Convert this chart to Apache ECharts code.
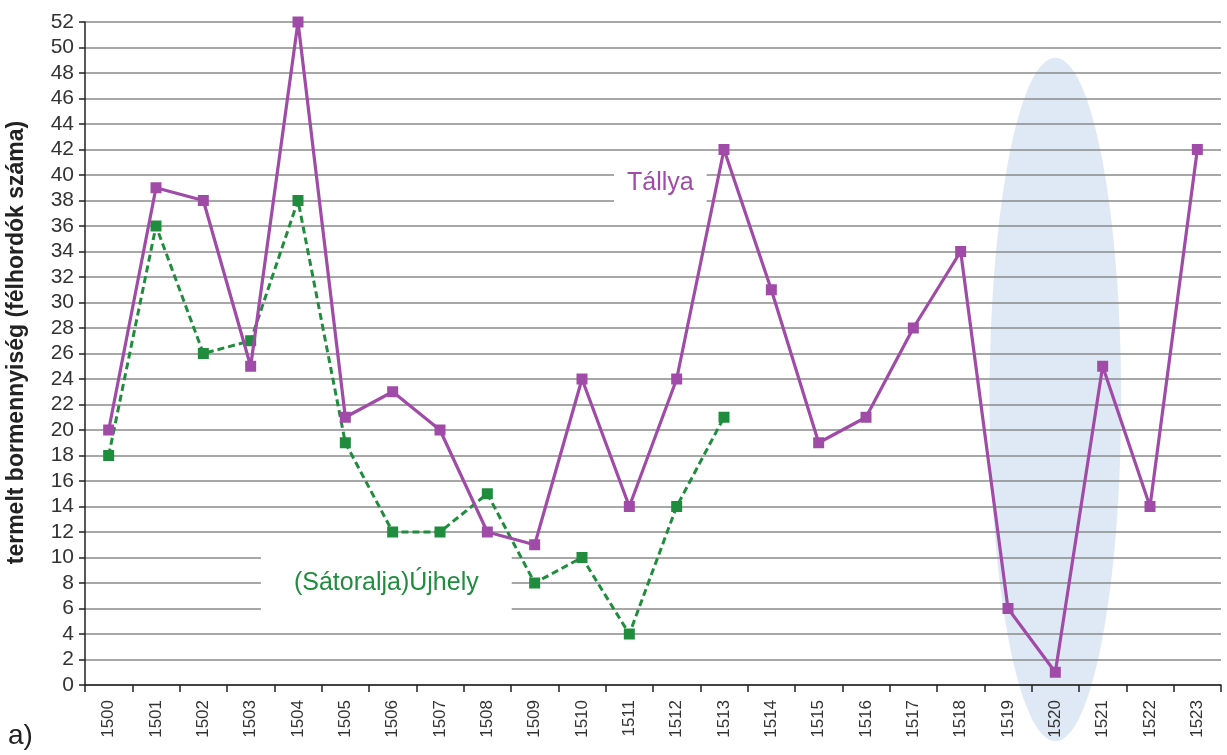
<!DOCTYPE html>
<html>
<head>
<meta charset="utf-8">
<script src="https://cdn.jsdelivr.net/npm/echarts@6/dist/echarts.min.js"></script>
<style>
html,body{margin:0;padding:0;background:#fff;}
#chart{width:1227px;height:755px;}
</style>
</head>
<body>
<div id="chart"></div>
<script>
const years = ['1500','1501','1502','1503','1504','1505','1506','1507','1508','1509','1510','1511','1512','1513','1514','1515','1516','1517','1518','1519','1520','1521','1522','1523'];
const tallya = [20,39,38,25,52,21,23,20,12,11,24,14,24,42,31,19,21,28,34,6,1,25,14,42];
const ujhely = [18,36,26,27,38,19,12,12,15,8,10,4,14,21];
const yTicks = {min:0, max:52, interval:2};
const yAxisTitle = 'termelt bormennyiség (félhordók száma)';
const seriesNames = ['Tállya','(Sátoralja)Újhely'];
const highlightYear = '1520';

const FONT = '"Liberation Sans", Arial, sans-serif';
const purple = '#a04ba8';
const green = '#1f8d3d';

const chart = echarts.init(document.getElementById('chart'));
const option = {
  backgroundColor:'#fff',
  animation:false,
  grid:{left:85, right:6, top:22, bottom:70, containLabel:false, outerBoundsMode:'none'},
  xAxis:{
    type:'category', data:years, boundaryGap:true,
    axisLine:{lineStyle:{color:'#222', width:1.5}},
    axisTick:{show:true, length:7, alignWithLabel:false, lineStyle:{color:'#222', width:1.5}},
    axisLabel:{rotate:90, fontSize:17, color:'#333', fontFamily:FONT, margin:15, interval:0},
    splitLine:{show:false}
  },
  yAxis:{
    type:'value', min:yTicks.min, max:yTicks.max, interval:yTicks.interval,
    name:yAxisTitle, nameLocation:'middle', nameGap:57, nameMoveOverlap:false,
    nameTextStyle:{fontSize:23, fontWeight:'bold', color:'#222', fontFamily:FONT, padding:[0,0,0,22]},
    axisLine:{show:true, lineStyle:{color:'#222', width:1.5}},
    axisTick:{show:true, length:6, lineStyle:{color:'#222', width:1.5}},
    axisLabel:{fontSize:21, color:'#333', fontFamily:FONT, margin:11},
    splitLine:{show:true, lineStyle:{color:'#8a8a8a', width:1.5}}
  },
  series:[
    {name:seriesNames[0], type:'line', data:tallya, symbol:'rect', symbolSize:11,
     lineStyle:{color:purple, width:3.2}, itemStyle:{color:purple}, z:5},
    {name:seriesNames[1], type:'line', data:ujhely, symbol:'rect', symbolSize:11,
     lineStyle:{color:green, width:3, type:[7,4]}, itemStyle:{color:green}, z:4}
  ]
};
chart.setOption(option);

// decorations positioned from the axes
const ctr = chart.convertToPixel({xAxisIndex:0, yAxisIndex:0}, [highlightYear, 22.4]);
const topY = chart.convertToPixel({yAxisIndex:0}, 49.2);
const b0 = chart.convertToPixel({xAxisIndex:0}, years[0]);
const b1 = chart.convertToPixel({xAxisIndex:0}, years[1]);
const band = b1 - b0;
const tPos = chart.convertToPixel({xAxisIndex:0, yAxisIndex:0}, ['1511', 39.4]);
const uPos = chart.convertToPixel({xAxisIndex:0, yAxisIndex:0}, ['1505', 8]);
chart.setOption({
  graphic:[
    {type:'ellipse', z:-10, silent:true,
     shape:{cx:ctr[0], cy:ctr[1], rx:band*1.39, ry:ctr[1]-topY},
     style:{fill:'#dce7f4', opacity:0.9}},
    {type:'text', z:2, x:tPos[0]+31, y:tPos[1],
     style:{text:seriesNames[0], fill:purple, font:'25px '+FONT, align:'center', verticalAlign:'middle',
       backgroundColor:'#fff', padding:[14,13]}},
    {type:'text', z:2, x:uPos[0]+41, y:uPos[1],
     style:{text:seriesNames[1], fill:green, font:'25px '+FONT, align:'center', verticalAlign:'middle',
       backgroundColor:'#fff', padding:[26,33]}},
    {type:'text', z:10, x:8, y:722,
     style:{text:'a)', fill:'#222', font:'28px '+FONT}}
  ]
});
</script>
</body>
</html>
